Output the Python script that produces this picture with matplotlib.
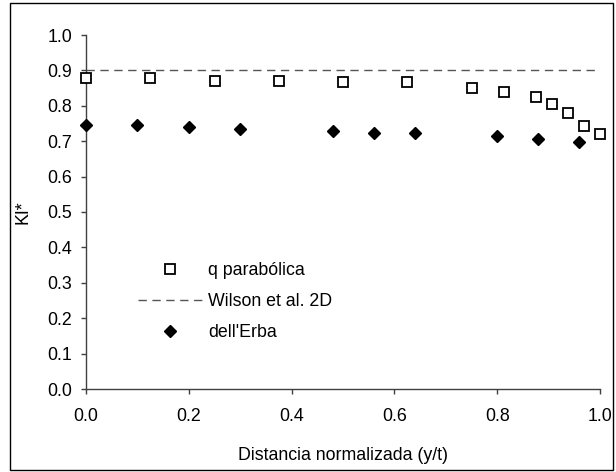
import matplotlib.pyplot as plt
from matplotlib.patches import Rectangle

# q parabolica (open squares)
x_q = [0.0, 0.125, 0.25, 0.375, 0.5, 0.625, 0.75, 0.8125, 0.875, 0.90625, 0.9375, 0.96875, 1.0]
y_q = [0.879, 0.879, 0.870, 0.870, 0.866, 0.866, 0.851, 0.838, 0.824, 0.806, 0.780, 0.743, 0.720]

# dell'Erba (filled diamonds)
x_e = [0.0, 0.1, 0.2, 0.3, 0.48, 0.56, 0.64, 0.8, 0.88, 0.96]
y_e = [0.745, 0.745, 0.740, 0.734, 0.730, 0.724, 0.724, 0.716, 0.706, 0.697]

# Wilson et al. 2D
wilson = 0.9

plt.rcParams['font.family'] = ['Liberation Sans', 'DejaVu Sans']
fs = 12.8

fig = plt.figure(figsize=(6.16, 4.72), dpi=100)
ax = fig.add_axes([86/616, 1 - 389/472, 514/616, 354/472])

ax.plot(x_q, y_q, 's', ms=7, mfc='white', mec='black', mew=1.3,
        linestyle='none', label='q parabólica', clip_on=False, zorder=3)
ax.axhline(wilson, color='#555555', lw=1, dashes=(6, 4), label='Wilson et al. 2D')
ax.plot(x_e, y_e, 'D', ms=6.5, color='black', linestyle='none',
        label="dell'Erba", clip_on=False, zorder=3)

ax.set_xlim(0, 1)
ax.set_ylim(0, 1)
ax.set_xticks([0, 0.2, 0.4, 0.6, 0.8, 1.0])
ax.set_yticks([i / 10 for i in range(11)])
ax.xaxis.set_major_formatter(plt.FormatStrFormatter('%.1f'))
ax.yaxis.set_major_formatter(plt.FormatStrFormatter('%.1f'))
ax.tick_params(direction='out', length=3.6, width=1, color='#404040', labelsize=fs)
ax.tick_params(axis='y', pad=6.5)
ax.tick_params(axis='x', pad=10)

for s in ['top', 'right']:
    ax.spines[s].set_visible(False)
for s in ['left', 'bottom']:
    ax.spines[s].set_color('#404040')
    ax.spines[s].set_linewidth(1)

ax.set_xlabel('Distancia normalizada (y/t)', fontsize=fs, labelpad=16)
ax.set_ylabel('KI*', fontsize=fs, labelpad=11)

ax.legend(loc='lower left', bbox_to_anchor=(0.07, 0.09), frameon=False,
          fontsize=fs, handlelength=3.6, handletextpad=0.35, labelspacing=0.78)

fig.patches.append(Rectangle((10/616, 2/472), 603/616, 467/472, transform=fig.transFigure,
                             fill=False, edgecolor='black', lw=1))

fig.savefig('out.png', dpi=100)
